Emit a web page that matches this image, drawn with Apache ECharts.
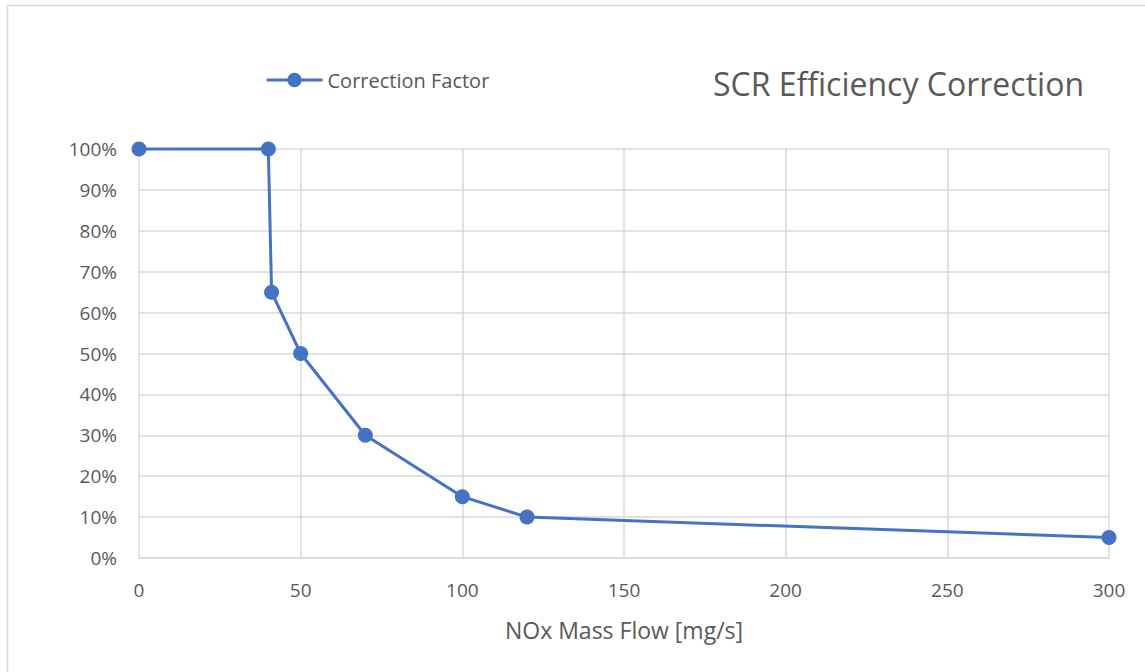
<!DOCTYPE html>
<html>
<head>
<meta charset="utf-8">
<script src="https://cdn.jsdelivr.net/npm/echarts@6/dist/echarts.min.js"></script>
<style>
  html, body { margin: 0; padding: 0; background: #fff; }
  #chart { width: 1145px; height: 672px; }
</style>
</head>
<body>
<div id="chart"></div>
<script>
// NOx mass flow [mg/s] vs correction factor [%]
const noxFlow = [0, 40, 41, 50, 70, 100, 120, 300];
const correction = [100, 100, 65, 50, 30, 15, 10, 5];
const seriesName = "Correction Factor";

const textColor = "#595959";
const gridColor = "#d9d9d9";
const font = "'Open Sans', sans-serif";

const chart = echarts.init(document.getElementById("chart"), undefined, { renderer: "svg" });

chart.setOption({
  animation: false,
  textStyle: { fontFamily: font },
  graphic: [
    {
      type: "rect",
      shape: { x: 7.5, y: 5.5, width: 1200, height: 700 },
      style: { fill: "none", stroke: gridColor, lineWidth: 1.5 },
      z: -1,
    },
  ],
  title: {
    text: "SCR Efficiency Correction",
    right: 56,
    top: 62,
    textStyle: { color: textColor, fontSize: 32, fontWeight: "normal", fontFamily: font },
  },
  legend: {
    left: 260,
    top: 65,
    itemWidth: 56,
    itemHeight: 18,
    itemGap: 6,
    lineStyle: { width: 3 },
    textStyle: { color: textColor, fontSize: 20, fontFamily: font },
    data: [seriesName],
  },
  grid: { left: 139, right: 36, top: 149, bottom: 114 },
  xAxis: {
    type: "value",
    min: 0,
    max: 300,
    interval: 50,
    name: "NOx Mass Flow [mg/s]",
    nameLocation: "middle",
    nameGap: 60,
    nameTextStyle: { color: textColor, fontSize: 23, fontFamily: font },
    axisLine: { show: true, lineStyle: { color: gridColor, width: 1.5 } },
    axisTick: { show: false },
    axisLabel: { color: textColor, fontSize: 19, margin: 22, fontFamily: font },
    splitLine: { show: true, lineStyle: { color: gridColor, width: 1.5 } },
  },
  yAxis: {
    type: "value",
    min: 0,
    max: 100,
    interval: 10,
    axisLine: { show: false },
    axisTick: { show: false },
    axisLabel: { color: textColor, fontSize: 19, margin: 22, formatter: "{value}%", fontFamily: font },
    splitLine: { show: true, lineStyle: { color: gridColor, width: 1.5 } },
  },
  series: [
    {
      name: seriesName,
      type: "line",
      data: noxFlow.map((x, i) => [x, correction[i]]),
      symbol: "circle",
      symbolSize: 15,
      lineStyle: { color: "#4472C4", width: 3 },
      itemStyle: { color: "#4472C4" },
      clip: false,
    },
  ],
});
</script>
</body>
</html>
